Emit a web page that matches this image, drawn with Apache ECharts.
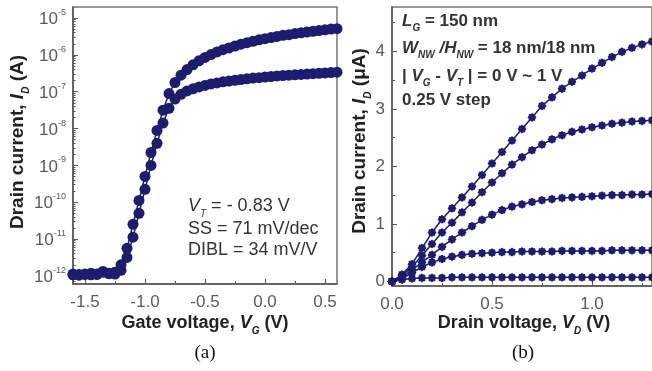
<!DOCTYPE html>
<html><head><meta charset="utf-8">
<script src="https://cdn.jsdelivr.net/npm/echarts@6/dist/echarts.min.js"></script>
<style>html,body{margin:0;padding:0;background:#fff}#c{width:652px;height:371px}</style>
</head><body><div id="c"></div>
<script>
// ---------- panel (a): transfer curves (log10 of I_D in A) ----------
const vgValues = [-1.6,-1.55,-1.5,-1.45,-1.4,-1.35,-1.3,-1.25,-1.2,-1.15,-1.1,-1.05,-1.0,-0.95,-0.9,-0.85,-0.8,-0.75,-0.7,-0.65,-0.6,-0.55,-0.5,-0.45,-0.4,-0.35,-0.3,-0.25,-0.2,-0.15,-0.1,-0.05,0,0.05,0.1,0.15,0.2,0.25,0.3,0.35,0.4,0.45,0.5,0.55,0.6];
const log10IdLowVD = [-11.97,-11.98,-11.96,-11.97,-11.95,-11.9,-11.94,-11.95,-11.85,-11.5,-10.95,-10.3,-9.65,-9.0,-8.4,-7.85,-7.45,-7.2,-7.07,-6.98,-6.92,-6.87,-6.83,-6.79,-6.76,-6.73,-6.71,-6.69,-6.67,-6.65,-6.63,-6.62,-6.6,-6.59,-6.57,-6.56,-6.55,-6.54,-6.53,-6.52,-6.51,-6.5,-6.49,-6.48,-6.47];
const log10IdHighVD = [-11.95,-11.96,-11.95,-11.93,-11.96,-11.88,-11.93,-11.9,-11.7,-11.25,-10.6,-9.95,-9.3,-8.65,-8.05,-7.5,-7.05,-6.75,-6.55,-6.4,-6.27,-6.16,-6.07,-5.99,-5.92,-5.86,-5.81,-5.76,-5.71,-5.67,-5.63,-5.59,-5.56,-5.53,-5.5,-5.47,-5.45,-5.42,-5.4,-5.38,-5.36,-5.34,-5.32,-5.3,-5.29];
const leftXTicks = [-1.5,-1.0,-0.5,0,0.5];
const leftYTickExps = [-12,-11,-10,-9,-8,-7,-6,-5];

// ---------- panel (b): output curves (I_D in uA) ----------
const vdValues = [0,0.05,0.1,0.15,0.2,0.25,0.3,0.35,0.4,0.45,0.5,0.55,0.6,0.65,0.7,0.75,0.8,0.85,0.9,0.95,1.0,1.05,1.1,1.15,1.2,1.25,1.3];
const idVov000 = [0,0.03,0.05,0.06,0.06,0.06,0.07,0.07,0.07,0.07,0.07,0.07,0.07,0.07,0.07,0.07,0.07,0.07,0.07,0.07,0.07,0.07,0.07,0.07,0.07,0.07,0.07];
const idVov025 = [0,0.05,0.15,0.25,0.33,0.39,0.43,0.46,0.48,0.49,0.5,0.51,0.51,0.52,0.52,0.52,0.52,0.53,0.53,0.53,0.53,0.53,0.54,0.54,0.54,0.54,0.54];
const idVov050 = [0,0.07,0.2,0.33,0.46,0.6,0.73,0.85,0.96,1.07,1.16,1.24,1.3,1.34,1.38,1.41,1.43,1.45,1.46,1.47,1.48,1.49,1.5,1.5,1.51,1.51,1.52];
const idVov075 = [0,0.1,0.25,0.45,0.65,0.85,1.02,1.2,1.37,1.55,1.72,1.88,2.03,2.16,2.28,2.38,2.47,2.54,2.6,2.64,2.68,2.71,2.74,2.76,2.78,2.79,2.8];
const idVov100 = [0,0.12,0.3,0.58,0.85,1.08,1.27,1.46,1.65,1.85,2.05,2.25,2.45,2.65,2.85,3.05,3.2,3.35,3.47,3.58,3.7,3.8,3.9,3.99,4.06,4.12,4.17];
const rightXTicks = [0,0.5,1.0];
const rightYTicks = [0,1,2,3,4];

// ---------- styles ----------
const NAVY = '#1e1c6c';
const AXIS = '#555';
const LBL = '#5a5a5a';
const FONT = 'Liberation Sans, Arial, sans-serif';

// log-decade minor tick positions (axis decoration)
const logMinor = [];
for (let n = -13; n <= -5; n++) for (let k = 2; k <= 9; k++) logMinor.push(n + Math.log10(k));

// spiky marker outline
let gear = 'path://';
for (let i = 0; i < 16; i++) {
  const a = i * Math.PI / 8, r = (i % 2) ? 0.8 : 1;
  gear += (i ? 'L' : 'M') + (r * Math.cos(a)).toFixed(3) + ' ' + (r * Math.sin(a)).toFixed(3) + ' ';
}
gear += 'Z';

const chart = echarts.init(document.getElementById('c'), null, {renderer: 'canvas'});

function lineSeries(name, xs, ys, xi, yi, sym, size) {
  return {
    name, type: 'line', xAxisIndex: xi, yAxisIndex: yi,
    data: xs.map((x, i) => [x, ys[i]]),
    symbol: sym, symbolSize: size, showSymbol: true,
    lineStyle: {color: NAVY, width: 1.5},
    itemStyle: {color: NAVY, borderWidth: 0},
    clip: true, animation: false, z: 3
  };
}

const tickLblStyle = {color: LBL, fontFamily: FONT, fontSize: 17};

function rt(size, weight, color, subRatio) {
  const nn = {fontFamily: FONT, fontWeight: weight, fontSize: size, fill: color, lineHeight: size + 8, verticalAlign: 'middle'};
  const ss = Math.round(size * (subRatio || 0.55));
  return {
    n: nn,
    i: Object.assign({}, nn, {fontStyle: 'italic'}),
    s: Object.assign({}, nn, {fontStyle: 'italic', fontSize: ss, lineHeight: ss, verticalAlign: 'bottom'})
  };
}

function txt(x, y, text, size, weight, color, align, rot, subRatio) {
  return {
    type: 'text', x, y, rotation: rot || 0, z: 10,
    style: {
      text, x: 0, y: 0, align: align || 'left', verticalAlign: 'middle',
      rich: rt(size, weight, color, subRatio),
      fontFamily: FONT, fontSize: size, fontWeight: weight, fill: color
    }
  };
}

const axisLineStyle = {onZero: false, lineStyle: {color: AXIS, width: 1.5}};

const option = {
  backgroundColor: '#fff',
  animation: false,
  grid: [
    {left: 73, top: 7, width: 264, height: 277, show: true, borderColor: '#777', borderWidth: 1.5, backgroundColor: 'transparent', containLabel: false},
    {left: 392, top: 7, width: 263.5, height: 279, show: true, borderColor: '#777', borderWidth: 1.5, backgroundColor: 'transparent', containLabel: false}
  ],
  xAxis: [
    {
      type: 'value', gridIndex: 0, min: -1.6, max: 0.6, splitNumber: 5,
      axisLine: axisLineStyle,
      axisTick: {inside: true, length: 5, customValues: leftXTicks, lineStyle: {color: AXIS}},
      minorTick: {show: true, splitNumber: 2, length: 3, lineStyle: {color: AXIS}},
      axisLabel: Object.assign({customValues: leftXTicks, margin: 10, formatter: v => Number(v).toFixed(1)}, tickLblStyle),
      splitLine: {show: false}
    },
    {
      type: 'value', gridIndex: 1, min: 0, max: 1.3, splitNumber: 3,
      axisLine: axisLineStyle,
      axisTick: {inside: true, length: 5, customValues: rightXTicks, lineStyle: {color: AXIS}},
      minorTick: {show: true, splitNumber: 2, length: 3, lineStyle: {color: AXIS}},
      axisLabel: Object.assign({customValues: rightXTicks, margin: 10, formatter: v => Number(v).toFixed(1)}, tickLblStyle),
      splitLine: {show: false}
    }
  ],
  yAxis: [
    {
      type: 'value', gridIndex: 0, min: -12.22, max: -4.70, splitNumber: 7, position: 'left',
      axisLine: axisLineStyle,
      axisTick: {inside: true, length: 5, customValues: leftYTickExps, lineStyle: {color: AXIS}},
      axisLabel: {
        customValues: leftYTickExps, margin: 7,
        formatter: v => '{b|10}{s|' + v + '}',
        rich: {
          b: {color: LBL, fontFamily: FONT, fontSize: 17, lineHeight: 20, verticalAlign: 'bottom'},
          s: {color: LBL, fontFamily: FONT, fontSize: 9, lineHeight: 9, verticalAlign: 'top'}
        }
      },
      splitLine: {show: false}
    },
    {
      type: 'value', gridIndex: 0, min: -12.22, max: -4.70, position: 'left', offset: 0,
      axisLine: {show: false, onZero: false},
      axisTick: {inside: true, length: 2.5, customValues: logMinor, lineStyle: {color: AXIS}},
      axisLabel: {show: false},
      splitLine: {show: false}
    },
    {
      type: 'value', gridIndex: 1, min: -0.08, max: 4.77, splitNumber: 5, position: 'left',
      axisLine: axisLineStyle,
      axisTick: {inside: true, length: 5, customValues: rightYTicks, lineStyle: {color: AXIS}},
      minorTick: {show: true, splitNumber: 2, length: 3, lineStyle: {color: AXIS}},
      axisLabel: Object.assign({customValues: rightYTicks, margin: 7}, tickLblStyle),
      splitLine: {show: false}
    }
  ],
  series: [
    lineSeries('low VD', vgValues, log10IdLowVD, 0, 0, 'circle', 11),
    lineSeries('high VD', vgValues, log10IdHighVD, 0, 0, 'circle', 11),
    lineSeries('0 V', vdValues, idVov000, 1, 2, gear, 9),
    lineSeries('0.25 V', vdValues, idVov025, 1, 2, gear, 9),
    lineSeries('0.5 V', vdValues, idVov050, 1, 2, gear, 9),
    lineSeries('0.75 V', vdValues, idVov075, 1, 2, gear, 9),
    lineSeries('1 V', vdValues, idVov100, 1, 2, gear, 9)
  ],
  graphic: [
    // axis titles
    txt(18, 142, '{n|Drain current, }{i|I}{s|D}{n| (A)}', 19, 'bold', '#222', 'center', Math.PI / 2),
    txt(360, 141, '{n|Drain current, }{i|I}{s|D}{n| (μA)}', 19, 'bold', '#222', 'center', Math.PI / 2),
    txt(205, 323, '{n|Gate voltage, }{i|V}{s|G}{n| (V)}', 18, 'bold', '#222', 'center'),
    txt(524, 323, '{n|Drain voltage, }{i|V}{s|D}{n| (V)}', 18, 'bold', '#222', 'center'),
    // panel labels
    {type: 'text', x: 205, y: 353, z: 10, style: {text: '(a)', align: 'center', verticalAlign: 'middle', fontFamily: 'Liberation Serif, Times New Roman, serif', fontSize: 19, fill: '#111'}},
    {type: 'text', x: 523, y: 353, z: 10, style: {text: '(b)', align: 'center', verticalAlign: 'middle', fontFamily: 'Liberation Serif, Times New Roman, serif', fontSize: 19, fill: '#111'}},
    // insets (a)
    txt(188, 206, '{i|V}{s|T}{n| = - 0.83 V}', 18, 'normal', '#333'),
    txt(188, 229, '{n|SS = 71 mV/dec}', 18, 'normal', '#333'),
    txt(188, 250, '{n|DIBL = 34 mV/V}', 18, 'normal', '#333'),
    // insets (b)
    txt(402, 21, '{i|L}{s|G}{n| = 150 nm}', 17, 'bold', '#333', 'left', 0, 0.6),
    txt(402, 48, '{i|W}{s|NW}{i| /H}{s|NW}{n| = 18 nm/18 nm}', 17, 'bold', '#333', 'left', 0, 0.6),
    txt(402, 76, '{n|| }{i|V}{s|G}{n| - }{i|V}{s|T}{n| | = 0 V ~ 1 V}', 17, 'bold', '#333', 'left', 0, 0.6),
    txt(402, 100, '{n|0.25 V step}', 17, 'bold', '#333')
  ]
};
chart.setOption(option);
</script>
</body></html>
